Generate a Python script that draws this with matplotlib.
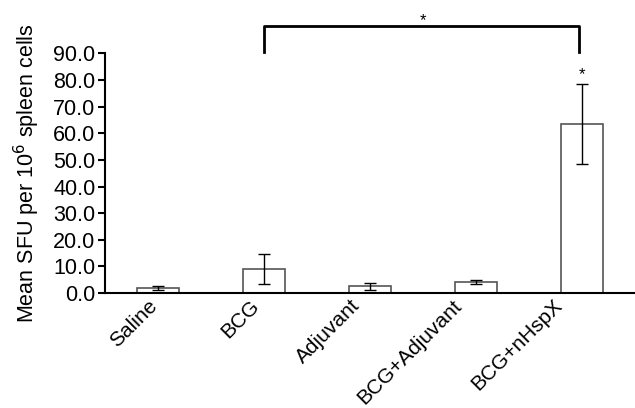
import matplotlib.pyplot as plt

plt.rcParams['font.family'] = ['Liberation Sans', 'DejaVu Sans']

# данные
groups = ["Saline", "BCG", "Adjuvant", "BCG+Adjuvant", "BCG+nHspX"]
means = [1.8, 9.1, 2.5, 4.1, 63.4]
errors = [0.8, 5.7, 1.4, 0.6, 15.0]
yticks = [0, 10, 20, 30, 40, 50, 60, 70, 80, 90]

fig = plt.figure(figsize=(6.35, 4.08), dpi=100)
ax = fig.add_axes([0.1654, 0.2819, 0.8346, 0.587])

x = range(len(groups))
ax.bar(x, means, width=0.4, color="white", edgecolor="#555555", linewidth=1.2)
ax.errorbar(x, means, yerr=errors, fmt="none", ecolor="black", elinewidth=1, capsize=4, capthick=1)

ax.set_xlim(-0.5, 4.5)
ax.set_ylim(0, 90)
ax.set_yticks(yticks)
ax.set_yticklabels(["%.1f" % v for v in yticks], fontsize=15.5)
# подписи немного сдвинуты влево, как в оригинале
ax.set_xticks([i * 0.955 - 0.03 for i in x])
ax.set_xticklabels(groups, fontsize=15, rotation=45, ha="right", va="center", rotation_mode="anchor")
ax.tick_params(axis="x", length=0, pad=7)
ax.tick_params(axis="y", length=5, width=1.5, pad=2)

for s in ["top", "right"]:
    ax.spines[s].set_visible(False)
ax.spines["left"].set_linewidth(1.5)
ax.spines["bottom"].set_linewidth(1.5)

ax.set_ylabel("Mean SFU per 10$^6$ spleen cells", fontsize=15.5, labelpad=8)

# скобка значимости
ax.plot([1, 1, 3.97, 3.97], [90.5, 100.3, 100.3, 90.5], color="black", linewidth=2, clip_on=False)
ax.text(2.5, 102.5, "*", ha="center", va="center", fontsize=12)
ax.text(4, 82, "*", ha="center", va="center", fontsize=12)

plt.savefig("out.png", dpi=100)
